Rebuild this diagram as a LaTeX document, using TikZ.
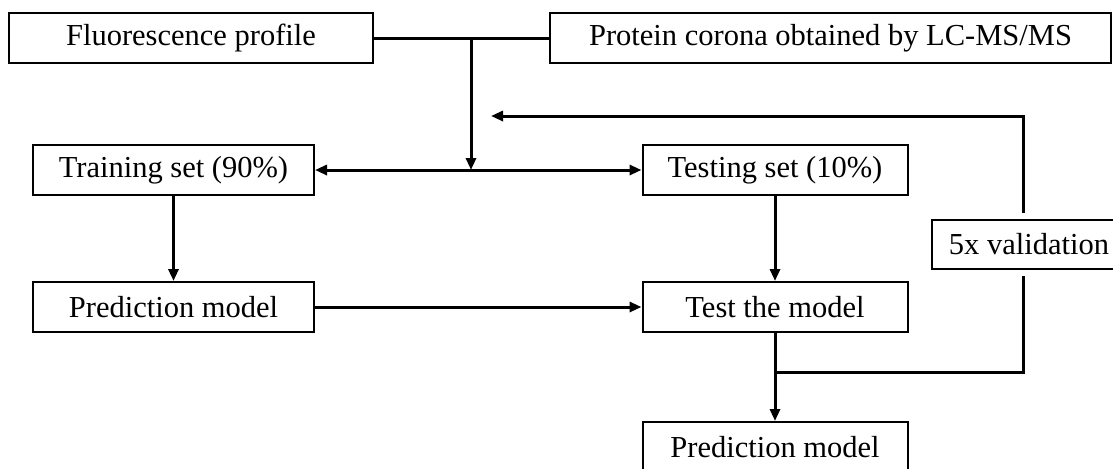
\documentclass[tikz,border=0pt]{standalone}
\usepackage{fontspec}
\setmainfont{Liberation Serif}
\usetikzlibrary{arrows.meta}

\begin{document}
\begin{tikzpicture}[x=0.5pt, y=-0.5pt, >={Triangle[length=6pt, width=5pt]},
            every node/.style={draw, line width=1pt, minimum height=25pt, inner sep=0pt, font=\fontsize{15.25}{18}\selectfont},
            link/.style={line width=1.5pt}]
            \useasboundingbox (0,0) rectangle (1113,468);

            \node[minimum width=182pt] (fluor) at (191,38) {Fluorescence profile};
            \node[minimum width=280.5pt] (corona) at (830.5,38) {Protein corona obtained by LC-MS/MS};
            \node[minimum width=140.5pt] (train) at (173.5,170) {Training set (90\%)};
            \node[minimum width=132.5pt] (test) at (775,170) {Testing set (10\%)};
            \node[minimum width=140.5pt] (predA) at (173.5,307) {Prediction model};
            \node[minimum width=132.5pt] (testm) at (775,307) {Test the model};
            \node[minimum width=132.5pt] (predB) at (775,447) {Prediction model};
            \node[minimum width=97pt, minimum height=24.5pt] (valid) at (1029,244.5) {5x validation};

            \coordinate (split) at (471,38);
            \coordinate (fork) at (471,170);
            \coordinate (join) at (775,372);
            \coordinate (vtop) at (1023,116);
            \coordinate (vbot) at (1023,372);
            \coordinate (back) at (491,116);

            \draw[link] (fluor) -- (corona);
            \draw[link, ->] (split) -- (fork);
            \draw[link, <->] (train) -- (test);
            \draw[link, ->] (train) -- (predA);
            \draw[link, ->] (test) -- (testm);
            \draw[link, ->] (predA) -- (testm);
            \draw[link, ->] (testm) -- (predB);
            \draw[link] (join) -- (vbot) -- ([yshift=-3pt]vbot |- valid.south);
            \draw[link, ->] ([yshift=3pt]vtop |- valid.north) -- (vtop) -- (back);
        \end{tikzpicture}
\end{document}
